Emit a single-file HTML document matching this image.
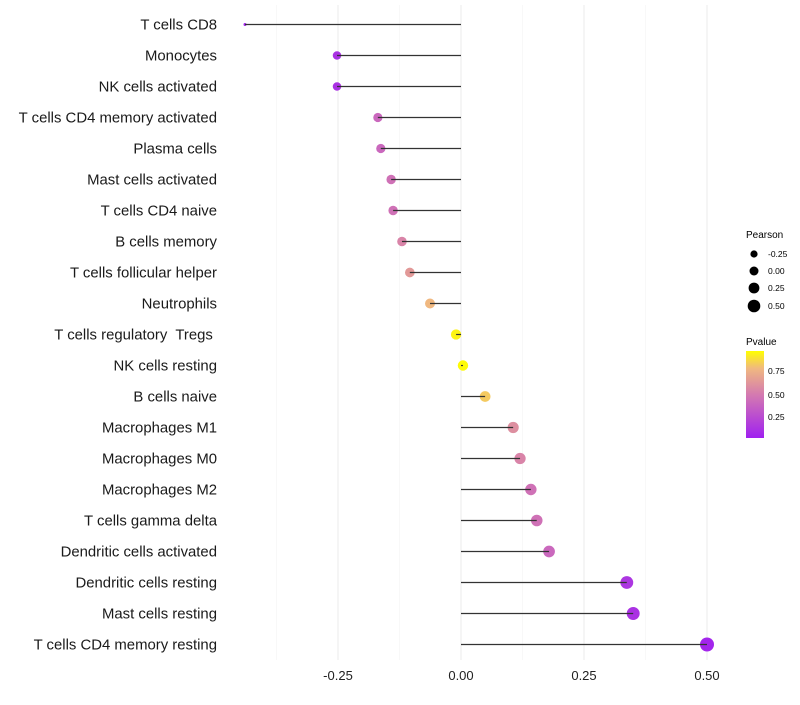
<!DOCTYPE html>
<html><head><meta charset="utf-8"><style>
body{margin:0;background:#fff;font-family:"Liberation Sans",sans-serif}
text{white-space:pre}
</style></head><body>
<svg id="chart" width="800" height="700" xmlns="http://www.w3.org/2000/svg">
<defs><linearGradient id="pg" x1="0" y1="1" x2="0" y2="0">
<stop offset="0" stop-color="#a020f0"/><stop offset="0.5" stop-color="#d47ab0"/><stop offset="0.8" stop-color="#f0b880"/><stop offset="1" stop-color="#ffff00"/>
</linearGradient></defs>
<g id="grid"></g><g id="marks"></g><g id="labels"></g>
<g font-size="8.5" fill="#000">
<text x="746" y="238" font-size="10">Pearson</text>
<circle cx="754" cy="254" r="3.6"/><text x="768" y="257">-0.25</text>
<circle cx="754" cy="271" r="4.5"/><text x="768" y="274">0.00</text>
<circle cx="754" cy="288" r="5.4"/><text x="768" y="291">0.25</text>
<circle cx="754" cy="306" r="6.3"/><text x="768" y="309">0.50</text>
</g>
<g font-size="8.5">
<text x="746" y="345" font-size="10">Pvalue</text>
<rect x="746" y="351" width="18" height="87" fill="url(#pg)"/>
<text x="768" y="374">0.75</text><text x="768" y="398">0.50</text><text x="768" y="420">0.25</text>
</g>
</svg>
<script>
const cells=["T cells CD8","Monocytes","NK cells activated","T cells CD4 memory activated","Plasma cells","Mast cells activated","T cells CD4 naive","B cells memory","T cells follicular helper","Neutrophils","T cells regulatory  Tregs ","NK cells resting","B cells naive","Macrophages M1","Macrophages M0","Macrophages M2","T cells gamma delta","Dendritic cells activated","Dendritic cells resting","Mast cells resting","T cells CD4 memory resting"];
const pearson=[-0.439,-0.252,-0.252,-0.169,-0.163,-0.142,-0.138,-0.12,-0.104,-0.063,-0.01,0.004,0.049,0.106,0.12,0.142,0.154,0.179,0.337,0.35,0.5];
const pvalue=[0.02,0.1,0.1,0.4,0.4,0.45,0.45,0.55,0.65,0.8,0.97,0.99,0.85,0.6,0.55,0.45,0.45,0.4,0.12,0.1,0.03];
const ticks=[-0.25,0,0.25,0.5];
const tickLabels=["-0.25","0.00","0.25","0.50"];
const NS="http://www.w3.org/2000/svg";
const x=v=>461+v*492, y=i=>24.5+i*31;
const r=v=>v<-0.25?Math.max(1.5,1.5+(v+0.44)*14.7):4.3+(v+0.25)*3.6;
function col(p){const st=[[0,[160,32,240]],[0.5,[212,122,176]],[0.8,[240,184,128]],[1,[255,255,0]]];
for(let k=1;k<st.length;k++){if(p<=st[k][0]){const t=(p-st[k-1][0])/(st[k][0]-st[k-1][0]);const a=st[k-1][1],b=st[k][1];return `rgb(${a.map((c,j)=>Math.round(c+(b[j]-c)*t)).join(',')})`;}}return "rgb(255,255,0)";}
function mk(t,a,p){const e=document.createElementNS(NS,t);for(const k in a)e.setAttribute(k,a[k]);p.appendChild(e);return e;}
const G=document.getElementById('grid'),M=document.getElementById('marks'),L=document.getElementById('labels');
[-0.375,-0.125,0.125,0.375].forEach(v=>mk('line',{x1:x(v),x2:x(v),y1:5,y2:660,stroke:'#f3f3f3','stroke-width':0.6},G));
ticks.forEach((v,i)=>{const l=mk('line',{x1:x(v),x2:x(v),y1:5,y2:660,stroke:'#ebebeb','stroke-width':1},G);


const t=mk('text',{x:x(v),y:680,'text-anchor':'middle','font-size':13,fill:'#222'},L);t.textContent=tickLabels[i];

});
cells.forEach((c,i)=>{
const t=mk('text',{x:217,y:y(i)+5,'text-anchor':'end','font-size':14.9,fill:'#1a1a1a'},L);t.textContent=c;


const d=mk('circle',{cx:x(pearson[i]),cy:y(i),r:r(pearson[i]),fill:col(pvalue[i])},M);


const ln=mk('line',{x1:x(0),x2:x(pearson[i]),y1:y(i),y2:y(i),stroke:'#333','stroke-width':1.2},M);


});
</script>
</body></html>
